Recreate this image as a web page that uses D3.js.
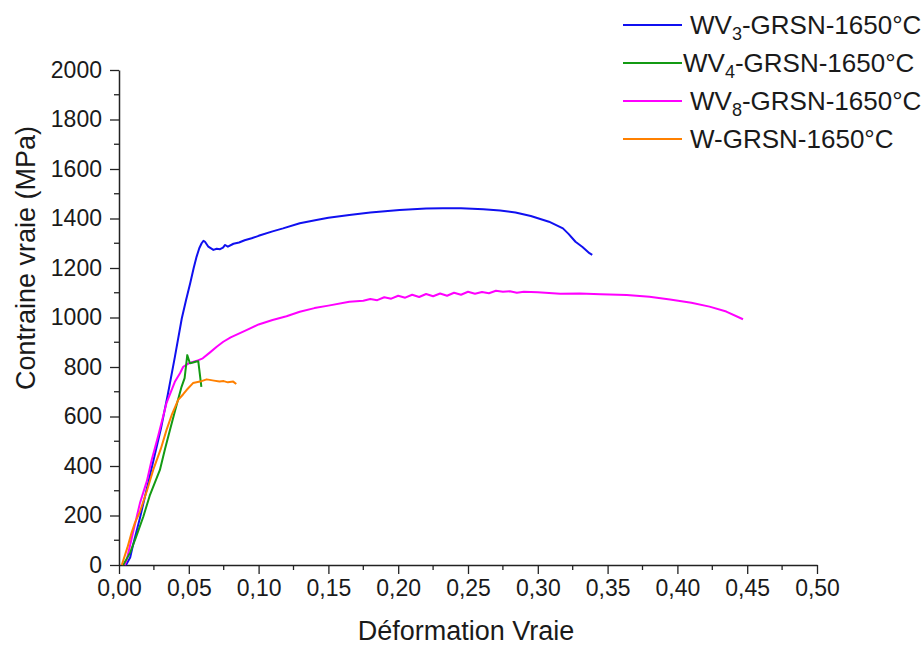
<!DOCTYPE html>
<html><head><meta charset="utf-8">
<script src="https://cdn.jsdelivr.net/npm/d3@7"></script>
<style>body{margin:0;background:#fff}text{font-family:"Liberation Sans",Arial,sans-serif;fill:#1a1a1a}</style>
</head><body><svg id="c" width="924" height="648"></svg>
<script>
const xTicks = [0,0.05,0.10,0.15,0.20,0.25,0.30,0.35,0.40,0.45,0.50];
const yTicks = [0,200,400,600,800,1000,1200,1400,1600,1800,2000];

const wv3Strain = [0.005,0.008,0.010,0.015,0.020,0.025,0.030,0.035,0.040,0.045,0.048,0.051,0.0535,0.0556,0.0575,0.0592,0.0605,0.0616,0.064,0.0676,0.070,0.0724,0.0745,0.076,0.078,0.082,0.086,0.090,0.095,0.100,0.110,0.1175,0.1295,0.1414,0.150,0.165,0.180,0.201,0.220,0.232,0.245,0.261,0.273,0.284,0.295,0.308,0.318,0.322,0.327,0.332,0.337,0.339];
const wv3Stress = [0,30,80,190,310,430,550,690,840,997,1070,1138,1200,1246,1280,1300,1310,1306,1286,1273,1278,1276,1282,1293,1286,1298,1303,1312,1320,1330,1348,1360,1381,1394,1403,1414,1424,1434,1440,1441,1441,1437,1432,1424,1410,1387,1360,1338,1306,1285,1260,1253];

const wv4Strain = [0.003,0.008,0.012,0.0174,0.022,0.0293,0.033,0.0365,0.040,0.0448,0.047,0.0489,0.0508,0.053,0.0555,0.0568,0.0575,0.059];
const wv4Stress = [0,50,110,195,280,384,470,545,620,720,755,848,815,818,822,823,790,720];

const wv8Strain = [0.004,0.0055,0.010,0.015,0.020,0.0234,0.028,0.034,0.040,0.0437,0.046,0.050,0.0557,0.060,0.065,0.070,0.0747,0.080,0.0913,0.100,0.110,0.120,0.1295,0.140,0.150,0.165,0.175,0.180,0.185,0.190,0.195,0.200,0.205,0.210,0.215,0.220,0.225,0.230,0.235,0.240,0.245,0.250,0.255,0.260,0.265,0.270,0.275,0.280,0.285,0.290,0.300,0.316,0.330,0.345,0.3637,0.380,0.3947,0.410,0.423,0.435,0.447];
const wv8Stress = [0,20,130,250,340,424,520,654,740,775,801,815,825,835,858,882,902,920,949,972,990,1005,1023,1038,1048,1064,1068,1075,1070,1082,1076,1088,1080,1092,1083,1095,1086,1097,1088,1100,1092,1104,1096,1103,1098,1108,1104,1106,1100,1104,1102,1096,1097,1094,1091,1084,1073,1060,1044,1024,993];

const wStrain = [0.002,0.006,0.009,0.0114,0.015,0.020,0.0245,0.030,0.034,0.038,0.0424,0.046,0.0484,0.053,0.058,0.0628,0.065,0.068,0.072,0.075,0.078,0.0818,0.084];
const wStress = [0,70,130,170,215,300,384,470,545,610,667,690,707,735,741,750,748,745,741,743,738,741,731];

const seriesNames = ["WV","WV","WV","W"];
const seriesSubs = ["3","4","8",""];
const seriesColors = ["#1010f0","#139a13","#ff00ff","#ff8000"];

const svg = d3.select("#c");
const x = d3.scaleLinear().domain([0,0.5]).range([119,817]);
const y = d3.scaleLinear().domain([0,2000]).range([565,70]);
const fmt = d => d3.format(".2f")(d).replace(".",",");

// minor ticks
const xMinor = d3.range(0.025,0.5,0.05);
const yMinor = d3.range(100,2000,200);
svg.append("g").selectAll("line").data(xMinor).join("line")
  .attr("x1",d=>x(d)).attr("x2",d=>x(d)).attr("y1",565).attr("y2",570)
  .attr("stroke","#222").attr("stroke-width",1.3);
svg.append("g").selectAll("line").data(yMinor).join("line")
  .attr("y1",d=>y(d)).attr("y2",d=>y(d)).attr("x1",119).attr("x2",114)
  .attr("stroke","#222").attr("stroke-width",1.3);

const xAxis = svg.append("g").attr("transform","translate(0,565)")
  .call(d3.axisBottom(x).tickValues(xTicks).tickFormat(fmt).tickSize(9).tickSizeOuter(0).tickPadding(6));
const yAxis = svg.append("g").attr("transform","translate(119,0)")
  .call(d3.axisLeft(y).tickValues(yTicks).tickFormat(d3.format("d")).tickSize(9).tickSizeOuter(0).tickPadding(8));
[xAxis,yAxis].forEach(a=>{
  a.select(".domain").attr("stroke","#222").attr("stroke-width",1.5);
  a.selectAll(".tick line").attr("stroke","#222").attr("stroke-width",1.3);
  a.selectAll("text").attr("font-size",23).attr("font-family","Liberation Sans, Arial, sans-serif").attr("fill","#1a1a1a");
});

const line = d3.line().x(d=>x(d[0])).y(d=>y(d[1]));
const data = [
  d3.zip(wv3Strain,wv3Stress),
  d3.zip(wv4Strain,wv4Stress),
  d3.zip(wv8Strain,wv8Stress),
  d3.zip(wStrain,wStress)
];
[0,2,1,3].forEach(i=>{
  svg.append("path").datum(data[i]).attr("d",line)
    .attr("fill","none").attr("stroke",seriesColors[i]).attr("stroke-width",2)
    .attr("stroke-linejoin","round");
});

// axis titles
svg.append("text").attr("x",466).attr("y",640).attr("text-anchor","middle")
  .attr("font-size",27).text("Déformation Vraie");
svg.append("text").attr("transform","translate(35,258) rotate(-90)").attr("text-anchor","middle")
  .attr("font-size",27).text("Contraine vraie (MPa)");

// legend
const legY = [25,63,101,139];
const legTextX = [690,683,690,690];
seriesNames.forEach((n,i)=>{
  const g = svg.append("g");
  g.append("line").attr("x1",623).attr("x2",682).attr("y1",legY[i]).attr("y2",legY[i])
    .attr("stroke",seriesColors[i]).attr("stroke-width",1.8);
  const t = g.append("text").attr("x",legTextX[i]).attr("y",legY[i]+9).attr("font-size",26);
  t.append("tspan").text(n);
  if (seriesSubs[i]) t.append("tspan").attr("font-size",18).attr("dy",6).text(seriesSubs[i]);
  t.append("tspan").attr("dy",seriesSubs[i]? -6:0).text("-GRSN-1650°C");
});
</script></body></html>
